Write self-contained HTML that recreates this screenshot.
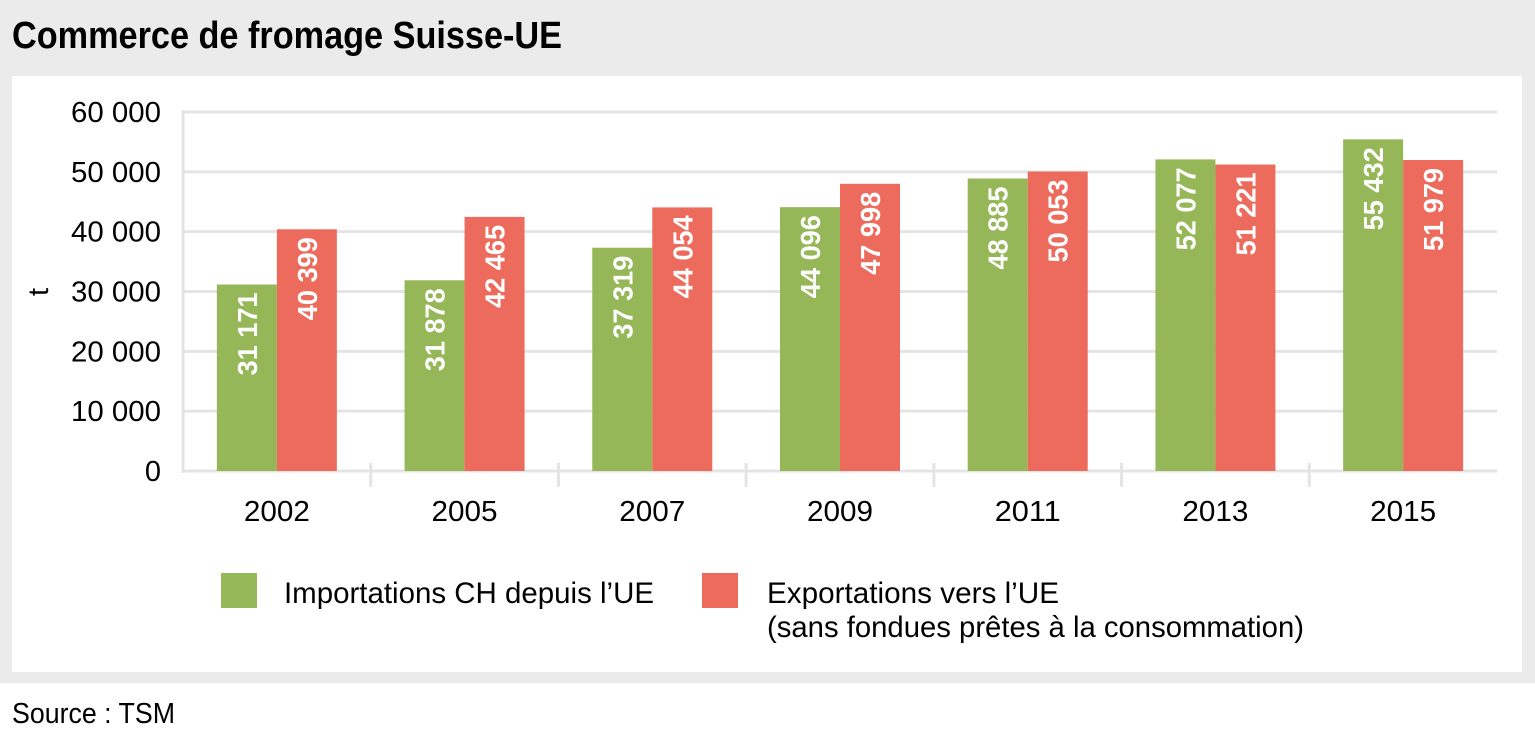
<!DOCTYPE html>
<html><head><meta charset="utf-8"><style>
body{margin:0;background:#fff;width:1535px;height:742px;overflow:hidden;font-family:"Liberation Sans",sans-serif}
</style></head><body>
<svg id="chart" width="1535" height="742" xmlns="http://www.w3.org/2000/svg" font-family="Liberation Sans, sans-serif">
<rect x="0" y="0" width="1535" height="683" fill="#ebebeb"/>
<rect x="12" y="76" width="1510" height="596" fill="#fff"/>
<text x="12" y="48" font-size="38" font-weight="bold" textLength="550" lengthAdjust="spacingAndGlyphs" fill="#000">Commerce de fromage Suisse-UE</text>
<text x="12" y="723" font-size="29" textLength="163" lengthAdjust="spacingAndGlyphs" fill="#000">Source : TSM</text>
<text transform="translate(48,292) rotate(-90)" text-anchor="middle" font-size="29" fill="#000">t</text>
<g id="grid"></g><g id="bars"></g><g id="labels"></g>
<rect x="221" y="573" width="36" height="35" fill="#95b758"/>
<text x="284" y="603" font-size="30" textLength="370" lengthAdjust="spacingAndGlyphs">Importations CH depuis l’UE</text>
<rect x="702" y="573" width="36" height="35" fill="#ed6b5d"/>
<text x="767" y="603" font-size="30" textLength="292" lengthAdjust="spacingAndGlyphs">Exportations vers l’UE</text>
<text x="767" y="637" font-size="30" textLength="537" lengthAdjust="spacingAndGlyphs">(sans fondues prêtes à la consommation)</text>
</svg>
<script>
const categories=["2002","2005","2007","2009","2011","2013","2015"];
const imports=[31171,31878,37319,44096,48885,52077,55432];
const exports=[40399,42465,44054,47998,50053,51221,51979];
const yTicks=[0,10000,20000,30000,40000,50000,60000];
const yTickLabels=["0","10 000","20 000","30 000","40 000","50 000","60 000"];
const NS="http://www.w3.org/2000/svg";
const L=183,R=1497,T=112,B=471,YMAX=60000;
const y=v=>B-(v/YMAX)*(B-T);
const bw=(R-L)/categories.length;
const x=i=>L+bw*i+bw/2;
const fmt=v=>String(v).replace(/\B(?=(\d{3})+(?!\d))/g," ");
function mk(tag,attrs,parent){const e=document.createElementNS(NS,tag);for(const k in attrs)e.setAttribute(k,attrs[k]);parent.appendChild(e);return e;}
const grid=document.getElementById('grid'),bars=document.getElementById('bars'),labels=document.getElementById('labels');
yTicks.forEach((t,i)=>{
  const ln=mk('line',{x1:L,x2:R,y1:y(t),y2:y(t),stroke:'#e4e4e4','stroke-width':3},grid);
  
  
  const at={x:161,y:y(t)+10,'text-anchor':'end','font-size':29};
  if(yTickLabels[i].length>1){at.textLength=90;at.lengthAdjust='spacingAndGlyphs';}
  const tx=mk('text',at,grid);
  tx.textContent=yTickLabels[i];
  
  
});
const ax=mk('line',{x1:L,x2:L,y1:T-2,y2:B+2,stroke:'#e4e4e4','stroke-width':3},grid);


for(let i=1;i<categories.length;i++){
  const tk=mk('line',{x1:L+bw*i,x2:L+bw*i,y1:B-8,y2:B+16,stroke:'#e4e4e4','stroke-width':3},grid);
  
  
}
categories.forEach((c,i)=>{
  const cx=x(i);
  [[imports[i],'#95b758',-60,'bar-import'],[exports[i],'#ed6b5d',0,'bar-export']].forEach(([v,col,off,nm])=>{
    const r=mk('rect',{x:cx+off,y:y(v),width:60,height:B-y(v),fill:col},bars);
    
    
    const t=mk('text',{transform:`translate(${cx+off+40},${y(v)+8}) rotate(-90)`,'text-anchor':'end','font-size':28,'font-weight':'bold',fill:'#fff',textLength:83,lengthAdjust:'spacingAndGlyphs'},labels);
    t.textContent=fmt(v);
    
    
  });
  const xl=mk('text',{x:cx,y:521,'text-anchor':'middle','font-size':29,textLength:66,lengthAdjust:'spacingAndGlyphs'},labels);
  xl.textContent=c;
  
  
});
</script>
</body></html>
